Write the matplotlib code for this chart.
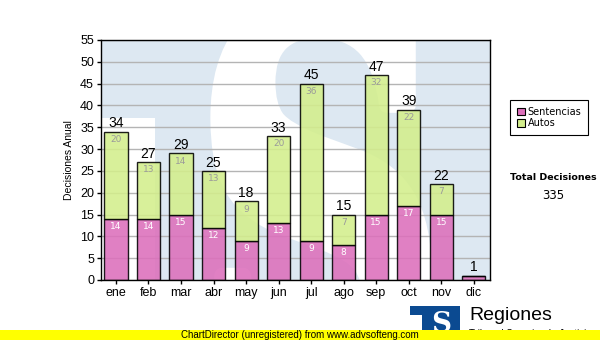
import matplotlib
matplotlib.use("Agg")
import matplotlib.pyplot as plt
from matplotlib.patches import Rectangle, PathPatch, Patch, Polygon
from matplotlib.textpath import TextPath
from matplotlib.font_manager import FontProperties
from matplotlib.transforms import Affine2D

months = ['ene', 'feb', 'mar', 'abr', 'may', 'jun', 'jul', 'ago', 'sep', 'oct', 'nov', 'dic']
sentencias = [14, 14, 15, 12, 9, 13, 9, 8, 15, 17, 15, 1]
autos = [20, 13, 14, 13, 9, 20, 36, 7, 32, 22, 7, 0]
totals = [s + a for s, a in zip(sentencias, autos)]
yticks = list(range(0, 56, 5))

W, H = 600, 340
fig = plt.figure(figsize=(6, 3.4), dpi=100)
ax = fig.add_axes([101 / W, 60 / H, 389 / W, 240 / H])
ax.set_xlim(-0.46, 11.5)
ax.set_ylim(0, 55)

# pixel -> figure fraction helper
def px(x, y):
    return (x / W, 1 - y / H)

wm_blue = '#dde8f2'
# logo watermark: blue block with a white cut-out on the lower left
wm = Polygon([px(101, 40), px(490, 40), px(490, 280), px(155, 280),
              px(155, 118), px(101, 118)],
             closed=True, transform=fig.transFigure, facecolor=wm_blue,
             edgecolor='none', zorder=0)
ax.add_patch(wm)

# big white S over the block
tp = TextPath((0, 0), 'S', prop=FontProperties(family='DejaVu Serif', weight='bold'))
bb = tp.get_extents()
x0, x1, ytop, ybot = 218, 424, 0, 390
sx = (x1 - x0) / bb.width / W
sy = (ybot - ytop) / bb.height / H
tr = Affine2D().translate(-bb.x0, -bb.y0).scale(sx, sy).translate(x0 / W, 1 - ybot / H)
s_patch = PathPatch(tr.transform_path(tp), transform=fig.transFigure,
                    facecolor='white', edgecolor='white', linewidth=11,
                    joinstyle='round', zorder=0.5)
ax.add_patch(s_patch)
s_patch.set_clip_path(ax.patch)
wm.set_clip_path(ax.patch)

ax.set_axisbelow(True)
ax.yaxis.grid(True, color='#b4b4b4', linewidth=1)
ax.set_yticks(yticks)

x = list(range(len(months)))
bw = 0.71
ax.bar(x, sentencias, bw, color='#dc6fbb', alpha=0.88, edgecolor='black', linewidth=1, zorder=2)
ax.bar(x, autos, bw, bottom=sentencias, color='#d3ee8c', alpha=0.88, edgecolor='black', linewidth=1, zorder=2)

for i in x:
    ax.annotate(str(totals[i]), (i, totals[i]), xytext=(0, 1), textcoords='offset points',
                ha='center', va='bottom', fontsize=10, family='Liberation Sans', color='black')
    if sentencias[i] >= 3:
        ax.annotate(str(sentencias[i]), (i, sentencias[i]), xytext=(0, -5.5), textcoords='offset points',
                    ha='center', va='center', fontsize=6.5, family='DejaVu Sans', color='white')
    if autos[i] >= 3:
        ax.annotate(str(autos[i]), (i, totals[i]), xytext=(0, -5.5), textcoords='offset points',
                    ha='center', va='center', fontsize=6.5, family='DejaVu Sans', color='#9a9a9a')

ax.set_xticks(x)
ax.set_xticklabels(months, family='Liberation Sans', fontsize=9)
for lab in ax.get_yticklabels():
    lab.set_family('Liberation Sans')
    lab.set_fontsize(9)
ax.tick_params(length=3, width=1, color='black', pad=2)
ax.set_ylabel('Decisiones Anual', family='Liberation Sans', fontsize=7.5, labelpad=4)
for sp in ax.spines.values():
    sp.set_linewidth(1)
    sp.set_color('black')

handles = [Patch(facecolor='#dc6fbb', edgecolor='black', linewidth=0.8, label='Sentencias'),
           Patch(facecolor='#d3ee8c', edgecolor='black', linewidth=0.8, label='Autos')]
leg = fig.legend(handles=handles, loc='upper left', bbox_to_anchor=px(510, 100),
                 prop={'family': 'DejaVu Sans', 'size': 7}, fancybox=False,
                 edgecolor='black', framealpha=1, handlelength=0.8, handleheight=0.8,
                 handletextpad=0.3, labelspacing=0.15, borderpad=0.7, borderaxespad=0)
leg.get_frame().set_linewidth(0.8)

fig.text(*px(553, 178), 'Total Decisiones', ha='center', va='center',
         family='DejaVu Sans', fontsize=6.8, fontweight='bold')
fig.text(*px(553, 196), str(sum(totals)), ha='center', va='center',
         family='DejaVu Sans', fontsize=8.5)

# footer logo
logo_blue = '#0b4a91'
fig.patches.append(Polygon([px(410, 306), px(460, 306), px(460, 340), px(422, 340),
                            px(422, 315), px(410, 315)], closed=True,
                           transform=fig.transFigure, facecolor=logo_blue, edgecolor='none'))
fig.text(*px(441, 325), 'S', ha='center', va='center', color='white',
         family='DejaVu Serif', fontweight='bold', fontsize=20)
fig.text(*px(469, 315), 'Regiones', ha='left', va='center',
         family='Liberation Sans', fontsize=14)
fig.text(*px(469, 334), 'Tribunal Superior de Justicia', ha='left', va='center',
         family='Liberation Sans', fontsize=7)

# unregistered banner
fig.patches.append(Rectangle((0, 0), 1, 10 / H, transform=fig.transFigure,
                             facecolor='#ffff00', edgecolor='none', zorder=10))
fig.text(*px(300, 335), 'ChartDirector (unregistered) from www.advsofteng.com',
         ha='center', va='center', family='Liberation Sans', fontsize=7, zorder=11)

fig.savefig('out.png', dpi=100)
